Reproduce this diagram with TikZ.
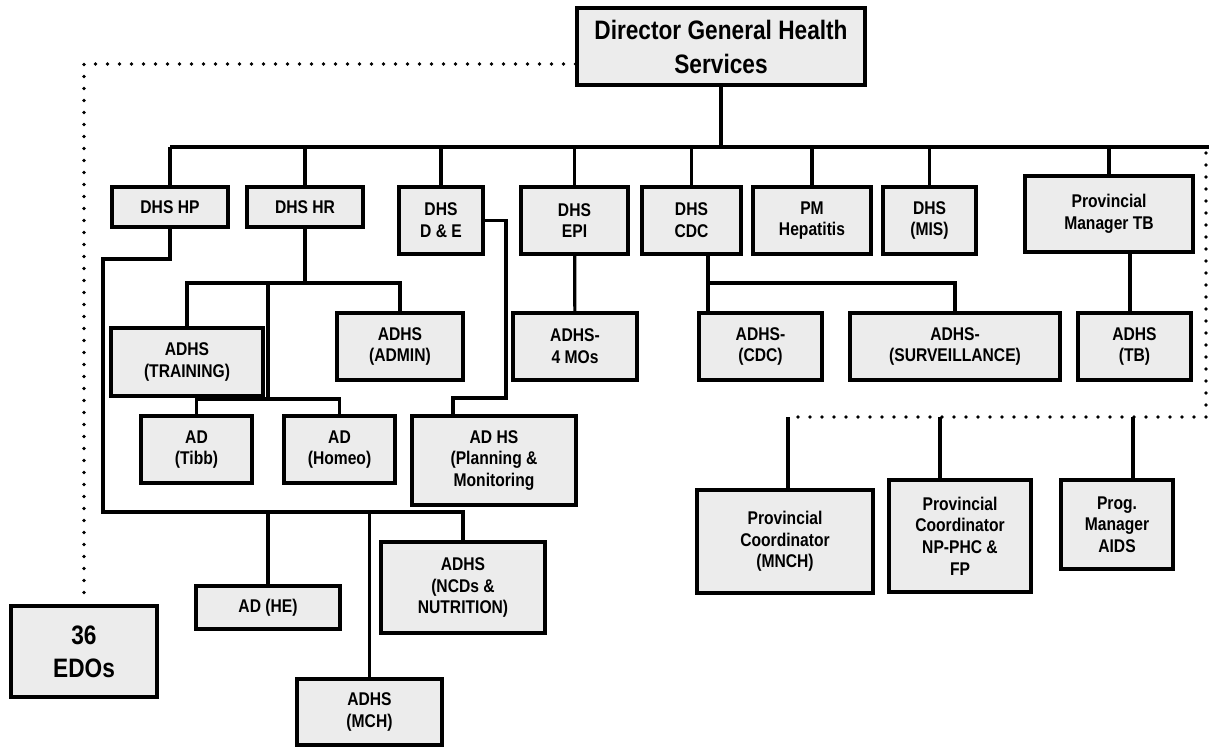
\documentclass[tikz,border=0pt]{standalone}
\usepackage{fontspec}
\setmainfont{Liberation Sans}[FakeStretch=0.85]
\usetikzlibrary{calc}
\definecolor{boxgray}{HTML}{ECECEC}
\tikzset{
  box/.style={draw=black, line width=2.4pt, fill=boxgray, align=center, inner sep=0pt,
    font=\bfseries\fontsize{13.8}{16.3}\selectfont},
  bigtext/.style={font=\bfseries\fontsize{20}{25.5}\selectfont},
  link/.style={line width=2.4pt, line join=miter},
  dotline/.style={line width=2.8pt, line cap=round, dash pattern=on 0pt off 9pt}
}
% \obox[style]{name}{x1}{y1}{x2}{y2}{text}: box spanning the given corners
\newcommand\obox[7][]{%
  \node[box,#1,minimum width={(#5-#3)*0.75pt},minimum height={(#6-#4)*0.75pt}]
    (#2) at ({(#3+#5)/2},{(#4+#6)/2}) {#7};}
\begin{document}
\begin{tikzpicture}[x=0.75pt,y=-0.75pt]
\useasboundingbox (0,0) rectangle (1209,752);

% helper coordinates
\coordinate (bus) at (0,147);
\coordinate (busR) at (1209,147);
\coordinate (hpL) at (103,259);
\coordinate (lowbus) at (103,512);
\coordinate (hrbus) at (0,283);
\coordinate (hrmid) at (268,283);
\coordinate (adbus) at (268,399);
\coordinate (deR) at (506,398);
\coordinate (deX) at (453,0);
\coordinate (cdcX) at (708,0);
\coordinate (cdcJ) at (708,283);
\coordinate (tbX) at (1130,0);
\coordinate (dr1) at (1206,153);
\coordinate (dr2) at (1206,417);
\coordinate (dr3) at (788,417);
\coordinate (npX) at (940,0);
\coordinate (aidsX) at (1133,0);
\coordinate (dlY) at (0,64);

% boxes
\obox[bigtext]{dg}{577}{8}{865}{85}{Director General Health\\Services}
\obox{hp}{112}{187}{228}{227}{DHS HP}
\obox{hr}{247}{187}{363}{227}{DHS HR}
\obox{de}{399}{187}{483}{254}{DHS\\D \& E}
\obox{epi}{521}{187}{628}{254}{DHS\\EPI}
\obox{cdc}{642}{187}{741}{254}{DHS\\CDC}
\obox{pmh}{753}{187}{871}{254}{PM\\Hepatitis}
\obox{mis}{883}{187}{976}{254}{DHS\\(MIS)}
\obox{pmtb}{1025}{176}{1193}{252}{Provincial\\Manager TB}
\obox{train}{111}{328}{263}{396}{ADHS\\(TRAINING)}
\obox{admin}{337}{313}{463}{380}{ADHS\\(ADMIN)}
\obox{mos}{513}{313}{637}{380}{ADHS-\\4 MOs}
\obox{cdcsub}{699}{313}{822}{380}{ADHS-\\(CDC)}
\obox{surv}{850}{313}{1060}{380}{ADHS-\\(SURVEILLANCE)}
\obox{adtb}{1078}{313}{1191}{380}{ADHS\\(TB)}
\obox{tibb}{141}{416}{252}{483}{AD\\(Tibb)}
\obox{homeo}{284}{416}{395}{483}{AD\\(Homeo)}
\obox{plan}{412}{416}{576}{505}{AD HS\\(Planning \&\\Monitoring}
\obox{mnch}{697}{490}{873}{593}{Provincial\\Coordinator\\(MNCH)}
\obox{npphc}{889}{480}{1031}{592}{Provincial\\Coordinator\\NP-PHC \&\\FP}
\obox{aids}{1061}{480}{1173}{569}{Prog.\\Manager\\AIDS}
\obox{he}{196}{586}{340}{629}{AD (HE)}
\obox{ncd}{381}{542}{545}{633}{ADHS\\(NCDs \&\\NUTRITION)}
\obox{mch}{297}{679}{442}{745}{ADHS\\(MCH)}
\obox[font=\bfseries\fontsize{20}{25}\selectfont]{edos}{11}{606}{157}{697}{36\\EDOs}

% main bus
\draw[link] (dg) -- (dg |- bus);
\draw[link] (hp |- bus) -- (busR);
\foreach \n in {hp,hr,de,epi,cdc,pmh,mis,pmtb}
  \draw[link] (\n |- bus) -- (\n);

% DHS HP branch
\draw[link] (hp.south) |- (hpL) -- (lowbus) -| (ncd.north);
\draw[link] (he |- lowbus) -- (he);
\draw[link] (mch |- lowbus) -- (mch);

% DHS HR branch
\draw[link] (hr) -- (hr |- hrbus);
\draw[link] (train.north) |- (admin |- hrbus) -- (admin);
\draw[link] (hrmid) -- (adbus);
\draw[link] (tibb.north) |- (homeo |- adbus) -- (homeo);

% DHS D & E branch
\draw[link] (de.east) -| (deR) -| (plan.north -| deX);

% DHS EPI branch
\draw[link] (epi) -- (mos);

% DHS CDC branch
\draw[link] (cdc.south -| cdcX) -- (cdcsub.north -| cdcX);
\draw[link] (cdcJ) -| (surv.north);

% Provincial Manager TB branch
\draw[link] (pmtb.south -| tbX) -- (adtb.north -| tbX);

% dotted links
\draw[dotline] (dr1) -- (dr2) -- (dr3);
\draw[link] (dr3) -- (mnch.north -| dr3);
\draw[link] (dr2 -| npX) -- (npphc.north -| npX);
\draw[link] (dr2 -| aidsX) -- (aids.north -| aidsX);
\draw[dotline] (dg.west |- dlY) -| (edos.north);
\end{tikzpicture}
\end{document}
